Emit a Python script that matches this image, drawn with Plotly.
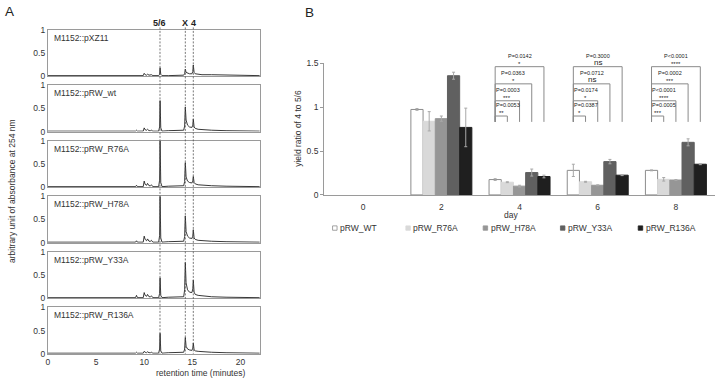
import plotly.graph_objects as go

W, H = 716, 383
FONT = "Arial, 'Liberation Sans', sans-serif"
TXT = "#333333"
GRAY = "#9a9a9a"

# ---------------- Panel A data (chromatograms) ----------------
strains = ["M1152::pXZ11", "M1152::pRW_wt", "M1152::pRW_R76A",
           "M1152::pRW_H78A", "M1152::pRW_Y33A", "M1152::pRW_R136A"]
time_min = [0, 5, 8.8, 9.1, 9.2, 9.3, 9.9, 10.0, 10.1, 10.25, 10.35, 10.5, 10.65, 10.75, 10.9,
            11.5, 11.6, 11.65, 11.72, 11.85, 12.5, 13.0, 13.5, 14.1, 14.2, 14.27, 14.35, 14.5,
            14.7, 14.95, 15.05, 15.1, 15.18, 15.3, 15.6, 16.0, 17.0, 18.5, 20.0, 22.0]
abs_pXZ11 = [0.01, 0.01, 0.01, 0.01, 0.02, 0.01, 0.01, 0.06, 0.03, 0.02, 0.04, 0.02, 0.02, 0.03, 0.01,
             0.01, 0.04, 0.18, 0.04, 0.01, 0.01, 0.01, 0.02, 0.02, 0.05, 0.15, 0.08, 0.06, 0.05, 0.05,
             0.10, 0.24, 0.08, 0.05, 0.04, 0.03, 0.03, 0.02, 0.02, 0.01]
abs_wt = [0.01, 0.01, 0.01, 0.01, 0.03, 0.01, 0.01, 0.08, 0.04, 0.03, 0.05, 0.02, 0.02, 0.03, 0.01,
          0.01, 0.10, 0.67, 0.08, 0.01, 0.02, 0.02, 0.03, 0.03, 0.12, 0.53, 0.25, 0.14, 0.10, 0.09,
          0.14, 0.27, 0.10, 0.07, 0.05, 0.04, 0.03, 0.02, 0.02, 0.01]
abs_R76A = [0.01, 0.01, 0.01, 0.01, 0.04, 0.01, 0.01, 0.13, 0.06, 0.04, 0.08, 0.03, 0.03, 0.05, 0.01,
            0.01, 0.15, 1.00, 0.10, 0.01, 0.02, 0.02, 0.03, 0.03, 0.12, 0.53, 0.22, 0.13, 0.10, 0.09,
            0.13, 0.23, 0.10, 0.07, 0.05, 0.04, 0.03, 0.02, 0.02, 0.01]
abs_H78A = [0.01, 0.01, 0.01, 0.01, 0.04, 0.01, 0.01, 0.14, 0.07, 0.04, 0.08, 0.03, 0.03, 0.05, 0.01,
            0.01, 0.15, 1.00, 0.10, 0.01, 0.02, 0.02, 0.03, 0.03, 0.13, 0.58, 0.24, 0.14, 0.10, 0.09,
            0.14, 0.28, 0.10, 0.07, 0.05, 0.04, 0.03, 0.02, 0.02, 0.01]
abs_Y33A = [0.01, 0.01, 0.01, 0.01, 0.06, 0.01, 0.01, 0.12, 0.06, 0.04, 0.08, 0.03, 0.03, 0.05, 0.01,
            0.01, 0.10, 0.44, 0.06, 0.01, 0.02, 0.02, 0.03, 0.03, 0.18, 0.77, 0.33, 0.18, 0.13, 0.12,
            0.20, 0.39, 0.13, 0.08, 0.06, 0.05, 0.03, 0.02, 0.02, 0.01]
abs_R136A = [0.01, 0.01, 0.01, 0.01, 0.03, 0.01, 0.01, 0.05, 0.03, 0.02, 0.04, 0.02, 0.02, 0.03, 0.01,
             0.01, 0.10, 0.44, 0.06, 0.01, 0.02, 0.02, 0.03, 0.03, 0.10, 0.35, 0.16, 0.10, 0.08, 0.07,
             0.12, 0.23, 0.08, 0.06, 0.05, 0.04, 0.03, 0.02, 0.02, 0.01]
chromatograms = [abs_pXZ11, abs_wt, abs_R76A, abs_H78A, abs_Y33A, abs_R136A]
peak_labels = ["5/6", "X", "4"]
peak_times = [11.64, 14.27, 15.1]
xA_ticks = [0, 5, 10, 15, 20]

# ---------------- Panel B data (bar chart) ----------------
days = ["0", "2", "4", "6", "8"]
series_names = ["pRW_WT", "pRW_R76A", "pRW_H78A", "pRW_Y33A", "pRW_R136A"]
ratio_WT = [None, 0.975, 0.175, 0.28, 0.28]
ratio_R76A = [None, 0.84, 0.145, 0.15, 0.178]
ratio_H78A = [None, 0.87, 0.10, 0.11, 0.17]
ratio_Y33A = [None, 1.36, 0.255, 0.38, 0.60]
ratio_R136A = [None, 0.77, 0.21, 0.225, 0.35]
err_WT = [None, 0.01, 0.01, 0.07, 0.005]
err_R76A = [None, 0.11, 0.005, 0.005, 0.02]
err_H78A = [None, 0.03, 0.01, 0.005, 0.005]
err_Y33A = [None, 0.04, 0.04, 0.025, 0.04]
err_R136A = [None, 0.22, 0.015, 0.005, 0.005]
ratios = [ratio_WT, ratio_R76A, ratio_H78A, ratio_Y33A, ratio_R136A]
errors = [err_WT, err_R76A, err_H78A, err_Y33A, err_R136A]
yB_ticks = [0, 0.5, 1, 1.5]
yB_ticktext = ["0", "0.5", "1", "1.5"]

# significance: comparisons of WT vs each mutant (R76A, H78A, Y33A, R136A) for days 4, 6, 8
sig_days = [2, 3, 4]  # category index
p_day4 = ["P=0.0053", "P=0.0003", "P=0.0363", "P=0.0142"]
s_day4 = ["**", "***", "*", "*"]
p_day6 = ["P=0.0387", "P=0.0174", "P=0.0712", "P=0.3000"]
s_day6 = ["*", "*", "ns", "ns"]
p_day8 = ["P=0.0005", "P<0.0001", "P=0.0002", "P<0.0001"]
s_day8 = ["***", "****", "***", "****"]
p_labels = [p_day4, p_day6, p_day8]
s_labels = [s_day4, s_day6, s_day8]

# ---------------- styles ----------------
bar_colors = ["#ffffff", "#d9d9d9", "#969696", "#606060", "#1f1f1f"]
bar_lines = ["#8c8c8c", "#d9d9d9", "#969696", "#606060", "#1f1f1f"]

fig = go.Figure()
layout = dict(width=W, height=H, autosize=False, margin=dict(l=0, r=0, t=0, b=0),
              paper_bgcolor="white", plot_bgcolor="white", showlegend=False,
              font=dict(family=FONT, size=8, color=TXT),
              barmode="group", bargap=0.22, bargroupgap=0)

xA_dom = [46 / W, 258.5 / W]
shapes, annos = [], []

for i, (name, vals) in enumerate(zip(strains, chromatograms)):
    k = "" if i == 0 else str(i + 1)
    top = 25.5 + 57 * i
    bot = 73 + 57 * i
    fig.add_trace(go.Scatter(x=time_min, y=vals, mode="lines",
                             line=dict(color="#222222", width=0.9),
                             xaxis="x" + k, yaxis="y" + k, hoverinfo="skip"))
    layout["xaxis" + k] = dict(domain=xA_dom, range=[0, 22], anchor="y" + k,
                               showgrid=False, zeroline=False, showline=True, mirror=True,
                               linecolor=GRAY, linewidth=1,
                               tickvals=xA_ticks, showticklabels=(i == 5),
                               ticks="", tickfont=dict(size=8.5, color=TXT))
    layout["yaxis" + k] = dict(domain=[1 - bot / H, 1 - top / H], range=[0, 1], anchor="x" + k,
                               showgrid=False, zeroline=False, showline=True, mirror=True,
                               linecolor=GRAY, linewidth=1,
                               tickvals=[0, 0.5, 1], ticktext=["0", "0.5", "1"],
                               ticks="", tickfont=dict(size=8.5, color=TXT))
    annos.append(dict(text=name, x=0.02, y=0.83, xref="x" + k + " domain", yref="y" + k + " domain",
                      showarrow=False, xanchor="left", yanchor="middle",
                      font=dict(size=8.5, color=TXT)))

# dashed peak lines + labels
for lab, t in zip(peak_labels, peak_times):
    shapes.append(dict(type="line", xref="x", yref="paper", x0=t, x1=t,
                       y0=1 - 23 / H, y1=1 - 358 / H,
                       line=dict(color="#555555", width=0.8, dash="2px,1.5px")))
    annos.append(dict(text="<b>%s</b>" % lab, x=t, y=1 - 18 / H, xref="x", yref="paper",
                      showarrow=False, xanchor="center", yanchor="middle",
                      font=dict(size=9, color="#222222")))

annos.append(dict(text="retention time (minutes)", x=(xA_dom[0] + xA_dom[1]) / 2, y=1 - 378 / H,
                  xref="paper", yref="paper", showarrow=False, yanchor="middle",
                  font=dict(size=8.5, color=TXT)))
annos.append(dict(text="arbitrary unit of absorbance at 254 nm", x=10 / W, y=1 - 191 / H,
                  xref="paper", yref="paper", showarrow=False, textangle=-90,
                  xanchor="center", yanchor="middle", font=dict(size=8.5, color=TXT)))
annos.append(dict(text="A", x=7.5 / W, y=1 - 7 / H, xref="paper", yref="paper", showarrow=False,
                  xanchor="center", yanchor="middle", font=dict(size=13.5, color="#222222")))
annos.append(dict(text="B", x=308 / W, y=1 - 8 / H, xref="paper", yref="paper", showarrow=False,
                  xanchor="center", yanchor="middle", font=dict(size=13.5, color="#222222")))

# ---------------- Panel B ----------------
xB_dom = [323 / W, 715 / W]
yB_dom = [1 - 195 / H, 1 - 60 / H]
positions = list(range(len(days)))
for j, (nm, vals, errs) in enumerate(zip(series_names, ratios, errors)):
    fig.add_trace(go.Bar(x=positions, y=vals, name=nm, xaxis="x7", yaxis="y7",
                         offsetgroup=str(j),
                         marker=dict(color=bar_colors[j], line=dict(color=bar_lines[j], width=1)),
                         error_y=dict(type="data", array=errs, visible=True,
                                      color="#a8a8a8", thickness=1, width=1.5),
                         hoverinfo="skip"))
layout["xaxis7"] = dict(domain=xB_dom, range=[-0.5, 4.5], anchor="y7", showgrid=False,
                        zeroline=False, showline=True, linecolor=GRAY, linewidth=1,
                        tickvals=positions, ticktext=days, ticks="outside", ticklen=4,
                        tickcolor="rgba(0,0,0,0)", tickfont=dict(size=8.5, color=TXT))
layout["yaxis7"] = dict(domain=yB_dom, range=[0, 1.5], anchor="x7", showgrid=False,
                        zeroline=False, showline=True, linecolor=GRAY, linewidth=1,
                        tickvals=yB_ticks, ticktext=yB_ticktext, ticks="outside", ticklen=3,
                        tickcolor=GRAY, tickfont=dict(size=8.5, color=TXT))


def ypaper(v):
    return yB_dom[0] + v / 1.5 * (yB_dom[1] - yB_dom[0])


gap = layout["bargap"]
bw = (1 - gap) / len(series_names)


def bar_center(cat, j):
    return cat - (1 - gap) / 2 + (j + 0.5) * bw


levels = [0.90, 1.074, 1.267, 1.463]
leg_bottom = 0.833
for g, cat in enumerate(sig_days):
    L = bar_center(cat, 0)
    for c in range(4):
        R = bar_center(cat, c + 1)
        lv = levels[c]
        shapes.append(dict(type="path", xref="x7", yref="paper",
                           path="M %f,%f L %f,%f L %f,%f L %f,%f" % (
                               L, ypaper(leg_bottom), L, ypaper(lv), R, ypaper(lv), R, ypaper(leg_bottom)),
                           line=dict(color="#8a8a8a", width=1)))
        mid = (L + R) / 2
        tx = max(mid, L + 0.16)
        annos.append(dict(text=p_labels[g][c], x=tx, y=ypaper(lv + 0.122), xref="x7", yref="paper",
                          showarrow=False, xanchor="center", yanchor="middle",
                          font=dict(size=5.5, color="#222222")))
        star = s_labels[g][c]
        annos.append(dict(text=star, x=mid, y=ypaper(lv + (0.045 if star == "ns" else 0.035)),
                          xref="x7", yref="paper", showarrow=False, xanchor="center",
                          yanchor="middle",
                          font=dict(size=(8 if star == "ns" else 6), color="#222222")))

annos.append(dict(text="day", x=(xB_dom[0] + xB_dom[1]) / 2 + 0.5 / 716, y=1 - 216 / H,
                  xref="paper", yref="paper", showarrow=False, yanchor="middle",
                  font=dict(size=8.5, color=TXT)))
annos.append(dict(text="yield ratio of 4 to 5/6", x=297 / W, y=1 - 127 / H,
                  xref="paper", yref="paper", showarrow=False, textangle=-90,
                  xanchor="center", yanchor="middle", font=dict(size=8.5, color=TXT)))

# manual legend
leg_x = [331.5, 405, 482.5, 560, 638]
leg_y = 229
for j, nm in enumerate(series_names):
    x0 = leg_x[j]
    shapes.append(dict(type="rect", xref="paper", yref="paper",
                       x0=x0 / W, x1=(x0 + 4.5) / W, y0=1 - (leg_y + 2.3) / H, y1=1 - (leg_y - 2.2) / H,
                       fillcolor=bar_colors[j], line=dict(color=bar_lines[j] if j else "#8c8c8c", width=0.8)))
    annos.append(dict(text=nm, x=(x0 + 5.5) / W, y=1 - leg_y / H, xref="paper", yref="paper",
                      showarrow=False, xanchor="left", yanchor="middle",
                      font=dict(size=8.5, color=TXT)))

layout["shapes"] = shapes
layout["annotations"] = annos
fig.update_layout(**layout)
fig.write_html("out.html")
